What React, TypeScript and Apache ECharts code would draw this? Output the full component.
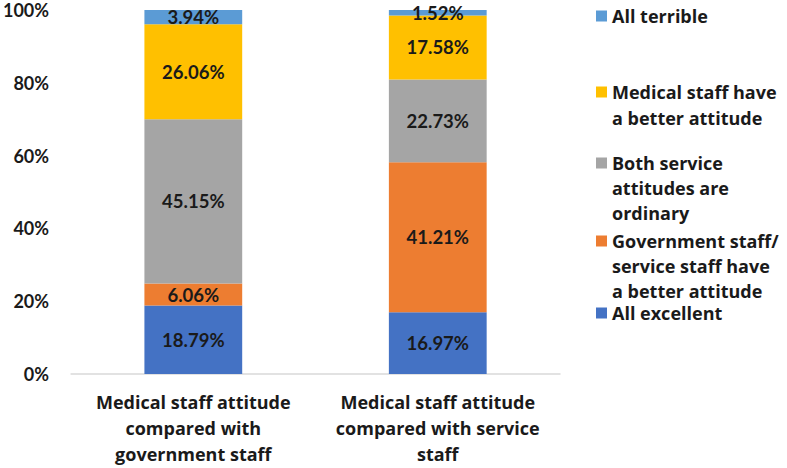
import React, { useEffect, useRef } from "react";
import * as echarts from "echarts";

const categories = [
  "Medical staff attitude\ncompared with\ngovernment staff",
  "Medical staff attitude\ncompared with service\nstaff",
];
const seriesNames = [
  "All excellent",
  "Government staff/service staff have a better attitude",
  "Both service attitudes are ordinary",
  "Medical staff have a better attitude",
  "All terrible",
];
const legendLabels = [
  "All excellent",
  "Government staff/\nservice staff have\na better attitude",
  "Both service\nattitudes are\nordinary",
  "Medical staff have\na better attitude",
  "All terrible",
];
const allExcellent = [18.79, 16.97];
const govBetter = [6.06, 41.21];
const bothOrdinary = [45.15, 22.73];
const medicalBetter = [26.06, 17.58];
const allTerrible = [3.94, 1.52];
const seriesValues = [allExcellent, govBetter, bothOrdinary, medicalBetter, allTerrible];
const colors = ["#4472C4", "#ED7D31", "#A5A5A5", "#FFC000", "#5B9BD5"];
const yTicks = [0, 20, 40, 60, 80, 100];

const NUM_FONT = "Lato";
const TXT_FONT = "Open Sans";
const LH = 26;
// first-line centre y of each legend entry (in seriesNames order)
const legendY = [313, 241, 163, 92, 16];

export default function App() {
  const ref = useRef<HTMLDivElement>(null);
  useEffect(() => {
    document.body.style.margin = "0";
    if (!ref.current) return;
    const chart = echarts.init(ref.current, undefined, { renderer: "svg" });
    const legends = seriesNames.map((name, i) => {
      const n = legendLabels[i].split("\n").length;
      const lh = n === 3 ? 25 : LH;
      return {
        data: [name],
        orient: "vertical",
        left: 596,
        top: legendY[i] - ((2 * n - 1) * lh) / 2,
        padding: 0,
        icon: "rect",
        itemWidth: 11,
        itemHeight: 11,
        itemGap: 0,
        selectedMode: false,
        formatter: () => "\n".repeat(n - 1) + legendLabels[i],
        textStyle: {
          fontFamily: TXT_FONT,
          fontWeight: "bold",
          fontSize: 18,
          color: "#1a1a1a",
          lineHeight: lh,
        },
      };
    });
    chart.setOption({
      animation: false,
      grid: { left: 70, right: 227, top: 10, bottom: 94 },
      legend: legends,
      xAxis: {
        type: "category",
        data: categories,
        axisTick: { show: false },
        axisLine: { lineStyle: { color: "#D9D9D9", width: 1.5 } },
        axisLabel: {
          fontFamily: TXT_FONT,
          fontWeight: "bold",
          fontSize: 18,
          color: "#1a1a1a",
          lineHeight: LH,
          margin: 15,
          interval: 0,
        },
      },
      yAxis: {
        type: "value",
        min: yTicks[0],
        max: yTicks[yTicks.length - 1],
        interval: 20,
        splitLine: { show: false },
        axisLine: { show: false },
        axisTick: { show: false },
        axisLabel: {
          formatter: "{value}%",
          fontFamily: NUM_FONT,
          fontWeight: "bold",
          fontSize: 18,
          color: "#1a1a1a",
          margin: 22,
        },
      },
      series: seriesNames.map((name, i) => ({
        name,
        type: "bar",
        stack: "total",
        barWidth: "40%",
        data: seriesValues[i],
        itemStyle: { color: colors[i] },
        label: {
          show: true,
          position: "inside",
          formatter: (p: any) => p.value.toFixed(2) + "%",
          fontFamily: NUM_FONT,
          fontWeight: "bold",
          fontSize: 18.5,
          color: "#1a1a1a",
        },
      })),
    });
    return () => chart.dispose();
  }, []);
  return <div ref={ref} style={{ width: 787, height: 468 }} />;
}
